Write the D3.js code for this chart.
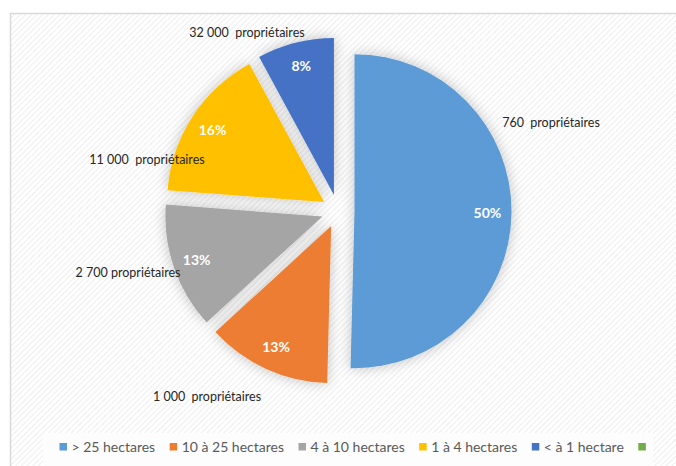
<!DOCTYPE html>
<html><head><meta charset="utf-8">
<script src="https://cdn.jsdelivr.net/npm/d3@7"></script>
<style>
html,body{margin:0;padding:0;background:#fff;}
svg text{white-space:pre;}
</style></head>
<body>
<svg id="chart" width="676" height="466"></svg>
<script>
// ---- data ----
const categories = ["> 25 hectares", "10 à 25 hectares", "4 à 10 hectares", "1 à 4 hectares", "< à 1 hectare", ""];
const shares = [50.4, 12.8, 13.0, 15.9, 7.9];
const ownerLabels = ["760  propriétaires", "1 000  propriétaires", "2 700 propriétaires", "11 000  propriétaires", "32 000  propriétaires"];
const colors = ["#5B9BD5", "#ED7D31", "#A5A5A5", "#FFC000", "#4472C4", "#70AD47"];

// ---- layout ----
const W = 676, H = 466;
const cx = 338, cy = 211, R = 157, explode = 16.5, pctRadius = 133;
const ownerOffsets = [[213, -88], [-131, 186], [-210, 62], [-191, -51], [-91, -178]];
const font = "Lato, 'Open Sans', sans-serif";

const svg = d3.select("#chart");
const defs = svg.append("defs");
const pat = defs.append("pattern").attr("id", "stripes").attr("patternUnits", "userSpaceOnUse")
  .attr("width", 4).attr("height", 4).attr("patternTransform", "rotate(45)");
pat.append("rect").attr("width", 4).attr("height", 4).attr("fill", "#ffffff");
pat.append("line").attr("x1", 0).attr("y1", 0).attr("x2", 0).attr("y2", 4)
  .attr("stroke", "#eeeeee").attr("stroke-width", 2);

const f = defs.append("filter").attr("id", "shadow").attr("x", "-30%").attr("y", "-30%").attr("width", "160%").attr("height", "160%");
f.append("feGaussianBlur").attr("in", "SourceAlpha").attr("stdDeviation", 7).attr("result", "b");
f.append("feOffset").attr("in", "b").attr("dx", 0).attr("dy", 0).attr("result", "o");
f.append("feFlood").attr("flood-color", "#000").attr("flood-opacity", 0.24).attr("result", "c");
f.append("feComposite").attr("in", "c").attr("in2", "o").attr("operator", "in").attr("result", "s");
const fm = f.append("feMerge");
fm.append("feMergeNode").attr("in", "s");
fm.append("feMergeNode").attr("in", "SourceGraphic");

svg.append("rect").attr("width", W).attr("height", H).attr("fill", "#fff");
svg.append("rect").attr("x", 10.5).attr("y", 13.5).attr("width", 720).attr("height", 520)
  .attr("fill", "url(#stripes)").attr("stroke", "#d9d9d9").attr("stroke-width", 1.5);

const pie = d3.pie().sort(null).value(d => d).startAngle(0).endAngle(2 * Math.PI);
const arcs = pie(shares);
const arc = d3.arc().innerRadius(0).outerRadius(R);
const fmt = d3.format(".0%");
const total = d3.sum(shares);

const g = svg.append("g").attr("transform", `translate(${cx},${cy})`);
const slices = g.selectAll("g.slice").data(arcs).join("g").attr("class", "slice")
  .attr("transform", d => {
    const m = (d.startAngle + d.endAngle) / 2;
    return `translate(${explode * Math.sin(m)},${-explode * Math.cos(m)})`;
  });
slices.append("path").attr("d", arc).attr("fill", (d, i) => colors[i]).attr("filter", "url(#shadow)");
slices.append("text")
  .attr("x", d => pctRadius * Math.sin((d.startAngle + d.endAngle) / 2))
  .attr("y", d => -pctRadius * Math.cos((d.startAngle + d.endAngle) / 2))
  .attr("dy", "0.35em").attr("text-anchor", "middle")
  .attr("font-family", font).attr("font-weight", "bold").attr("font-size", 14)
  .attr("fill", "#fff").text(d => fmt(d.value / total));

g.selectAll("text.owner").data(ownerLabels).join("text").attr("class", "owner")
  .attr("x", (d, i) => ownerOffsets[i][0]).attr("y", (d, i) => ownerOffsets[i][1])
  .attr("dy", "0.35em").attr("text-anchor", "middle")
  .attr("font-family", font).attr("font-size", 12.5).attr("fill", "#262626").text(d => d);

// legend
svg.append("rect").attr("x", 43).attr("y", 433).attr("width", 610).attr("height", 40).attr("fill", "#fdfdfd");
const lg = svg.append("g");
let x = 59.5;
categories.forEach((c, i) => {
  lg.append("rect").attr("x", x).attr("y", 443).attr("width", 7.5).attr("height", 7.5).attr("fill", colors[i]);
  const t = lg.append("text").attr("x", x + 12).attr("y", 447).attr("dy", "0.35em")
    .attr("font-family", font).attr("font-size", 14).attr("fill", "#595959").text(c);
  x = x + 12 + t.node().getComputedTextLength() + 14.5;
});
</script>
</body></html>
